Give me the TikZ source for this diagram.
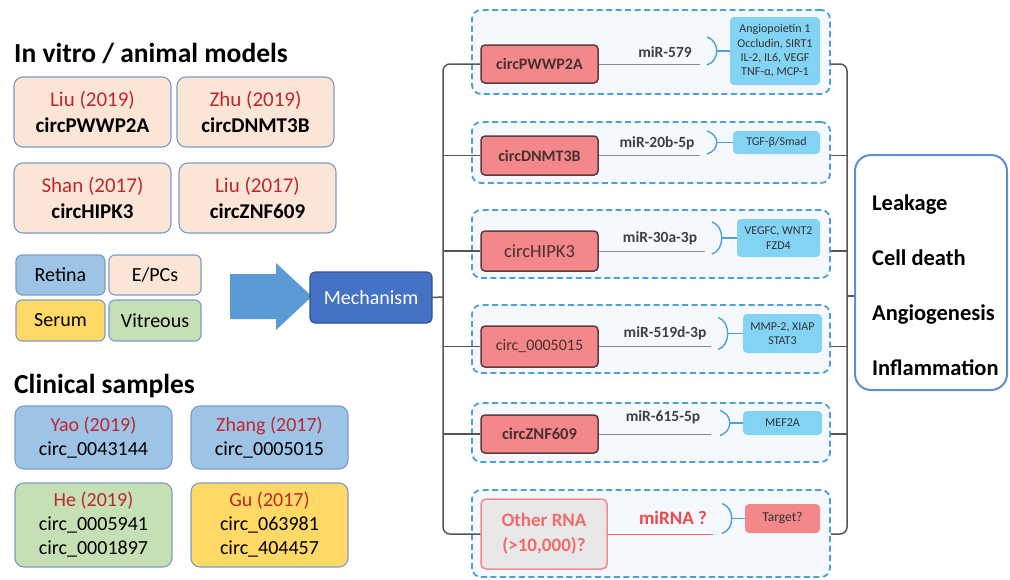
\documentclass[tikz,border=0pt]{standalone}
\usepackage{fontspec}
\setmainfont{Carlito}
\usetikzlibrary{calc}
\definecolor{peach}{HTML}{FBE5D6}
\definecolor{bordc}{HTML}{7A9CC6}
\definecolor{redtxt}{HTML}{C0272D}
\definecolor{lblue}{HTML}{9DC3E6}
\definecolor{lgreen}{HTML}{C5E0B4}
\definecolor{gold}{HTML}{FFD966}
\definecolor{mechfill}{HTML}{4472C4}
\definecolor{mechbord}{HTML}{2F528F}
\definecolor{arrowblue}{HTML}{5B9BD5}
\definecolor{circred}{HTML}{F4878A}
\definecolor{circbord}{HTML}{5A3C3C}
\definecolor{tgtblue}{HTML}{83D3F5}
\definecolor{dashblue}{HTML}{4CA0D6}
\definecolor{dashfill}{HTML}{F5F9FD}
\definecolor{trunkc}{HTML}{555555}
\definecolor{mirc}{HTML}{8A8A8A}
\definecolor{mirtxt}{HTML}{404040}
\definecolor{outbord}{HTML}{5B8FCF}
\definecolor{otherred}{HTML}{F26B6B}
\definecolor{mirnared}{HTML}{EE4848}
\definecolor{othergray}{HTML}{E8E8E8}
\newcommand{\mybrk}[4]{%
  \draw[brk] (#1,#2-#3) .. controls (#1+13,#2-#3+4) and (#1+13,#2+#3-4) .. (#1,#2+#3);
  \coordinate (#4) at (#1+10,#2);}
\begin{document}
\begin{tikzpicture}[x=1pt,y=-1pt,
  lbox/.style={draw=bordc, line width=1.1pt, rounded corners=9pt, inner sep=0pt, align=center},
  bigtxt/.style={font=\fontsize{21}{26}\selectfont},
  smtxt/.style={font=\fontsize{20}{24}\selectfont},
  title/.style={anchor=base west, inner sep=0pt, font=\bfseries\fontsize{27.5}{30}\selectfont},
  dbox/.style={draw=dashblue, fill=dashfill, line width=1.8pt, dash pattern=on 6pt off 3.5pt, rounded corners=9pt, minimum width=358pt, inner sep=0pt},
  cbox/.style={draw=circbord, fill=circred, line width=1.5pt, rounded corners=4pt, minimum width=117pt, inner sep=0pt, text=circbord!80!black},
  tbox/.style={fill=tgtblue, rounded corners=4pt, inner sep=0pt, align=center, text=black!80, font=\fontsize{12}{14.3}\selectfont},
  trunk/.style={draw=trunkc, line width=1.5pt},
  mirline/.style={draw=mirc, line width=1pt},
  mirlab/.style={text=mirtxt, font=\bfseries\fontsize{15.5}{18}\selectfont, inner sep=0pt},
  brk/.style={draw=dashblue, line width=1.4pt},
  outlab/.style={anchor=base west, inner sep=0pt, font=\bfseries\fontsize{22.5}{26}\selectfont},
]
\useasboundingbox[fill=white] (0,0) rectangle (1010,579);

% ---------- left column ----------
\node[title] (ttl1) at (14,62) {In vitro / animal models};
\node[lbox, bigtxt, fill=peach, minimum width=157pt, minimum height=70pt] (liu19) at (92.5,112) {{\color{redtxt}Liu (2019)}\\\textbf{circPWWP2A}};
\node[lbox, bigtxt, fill=peach, minimum width=157pt, minimum height=70pt] (zhu19) at (255.5,112) {{\color{redtxt}Zhu (2019)}\\\textbf{circDNMT3B}};
\node[lbox, bigtxt, fill=peach, minimum width=157pt, minimum height=70pt] (shan17) at (92.5,198) {{\color{redtxt}Shan (2017)}\\\textbf{circHIPK3}};
\node[lbox, bigtxt, fill=peach, minimum width=157pt, minimum height=70pt] (liu17) at (257.5,198) {{\color{redtxt}Liu (2017)}\\\textbf{circZNF609}};

\node[lbox, smtxt, fill=lblue, rounded corners=6pt, minimum width=89pt, minimum height=40pt] (retina) at (60.5,275) {Retina};
\node[lbox, smtxt, fill=peach, rounded corners=6pt, minimum width=92pt, minimum height=40pt] (epcs) at (155,275) {E/PCs};
\node[lbox, smtxt, fill=gold, rounded corners=6pt, minimum width=89pt, minimum height=41pt] (serum) at (60.5,320.5) {Serum};
\node[lbox, smtxt, fill=lgreen, rounded corners=6pt, minimum width=92pt, minimum height=41pt] (vitreous) at (155,320.5) {Vitreous};

\fill[arrowblue] (230,274) -- (276,274) -- (276,263) -- (312,296.5) -- (276,330) -- (276,319) -- (230,319) -- cycle;
\node[draw=mechbord, fill=mechfill, line width=1.2pt, rounded corners=5pt, minimum width=122pt, minimum height=51pt, inner sep=0pt, text=white, font=\fontsize{20}{24}\selectfont] (mech) at (371,297.5) {Mechanism};

\node[title] (ttl2) at (14,393) {Clinical samples};
\node[lbox, smtxt, fill=lblue, minimum width=157pt, minimum height=63pt] (yao) at (93.5,437.5) {{\color{redtxt}Yao (2019)}\\circ\_0043144};
\node[lbox, smtxt, fill=lblue, minimum width=157pt, minimum height=63pt] (zhang) at (269.5,437.5) {{\color{redtxt}Zhang (2017)}\\circ\_0005015};
\node[lbox, smtxt, fill=lgreen, minimum width=157pt, minimum height=84pt] (he) at (93.5,525) {{\color{redtxt}He (2019)}\\circ\_0005941\\circ\_0001897};
\node[lbox, smtxt, fill=gold, minimum width=157pt, minimum height=84pt] (gu) at (269.5,525) {{\color{redtxt}Gu (2017)}\\circ\_063981\\circ\_404457};

% ---------- middle ----------
\node[dbox, minimum height=84pt] (d1) at (651,52) {};
\node[dbox, minimum height=61pt] (d2) at (651,152.5) {};
\node[dbox, minimum height=68pt] (d3) at (651,244) {};
\node[dbox, minimum height=68pt] (d4) at (651,339) {};
\node[dbox, minimum height=59pt] (d5) at (651,432.5) {};
\node[dbox, minimum height=87pt] (d6) at (651,533.5) {};

\node[cbox, minimum height=38pt, font=\bfseries\fontsize{16}{19}\selectfont] (c1) at (539.5,64) {circPWWP2A};
\node[cbox, minimum height=39pt, font=\bfseries\fontsize{16}{19}\selectfont] (c2) at (539.5,155.5) {circDNMT3B};
\node[cbox, minimum height=40pt, font=\fontsize{18.5}{21}\selectfont] (c3) at (539.5,251) {circHIPK3};
\node[cbox, minimum height=41pt, font=\fontsize{16}{19}\selectfont] (c4) at (539.5,346.5) {circ\_0005015};
\node[cbox, minimum height=38pt, font=\bfseries\fontsize{16.5}{19}\selectfont] (c5) at (539.5,434) {circZNF609};
\node[draw=otherred!80, fill=othergray, line width=1.5pt, rounded corners=5pt, minimum width=126pt, minimum height=70pt, inner sep=0pt, align=center, text=otherred, font=\bfseries\fontsize{19}{25}\selectfont] (c6) at (544,534) {Other RNA\\(>10,000)?};

\node[tbox, minimum width=90pt, minimum height=68pt] (t1) at (775,51) {Angiopoietin 1\\Occludin, SIRT1\\IL-2, IL6, VEGF\\TNF-α, MCP-1};
\node[tbox, minimum width=87pt, minimum height=23pt] (t2) at (776.5,142.5) {TGF-β/Smad};
\node[tbox, minimum width=83pt, minimum height=38pt] (t3) at (778.5,238) {VEGFC, WNT2\\FZD4};
\node[tbox, minimum width=79pt, minimum height=39pt] (t4) at (782.5,333.5) {MMP-2, XIAP\\STAT3};
\node[tbox, minimum width=79pt, minimum height=24pt] (t5) at (782.5,423) {MEF2A};
\node[fill=circred, rounded corners=4pt, inner sep=0pt, minimum width=75pt, minimum height=29pt, text=black!80, font=\fontsize{13.5}{16}\selectfont] (t6) at (782.5,518.5) {Target?};

% miR lines
\coordinate (e1) at (700,64);
\coordinate (e2) at (700,155.5);
\coordinate (e3) at (705,251);
\coordinate (e4) at (711,346.5);
\coordinate (e5) at (711,434);
\coordinate (e6) at (713,534);
\draw[mirline] (c1.east) -- (e1);
\draw[mirline] (c2.east) -- (e2);
\draw[mirline] (c3.east) -- (e3);
\draw[mirline] (c4.east) -- (e4);
\draw[mirline] (c5.east) -- (e5);
\draw[draw=otherred, line width=1pt] (c6.east |- e6) -- (e6);

\node[mirlab] (m1) at (665,52) {miR-579};
\node[mirlab] (m2) at (657,143) {miR-20b-5p};
\node[mirlab] (m3) at (660,238) {miR-30a-3p};
\node[mirlab] (m4) at (665,333) {miR-519d-3p};
\node[mirlab] (m5) at (663,417) {miR-615-5p};
\node[mirlab, text=mirnared, font=\bfseries\fontsize{19}{22}\selectfont] (m6) at (673,518) {miRNA ?};

% brackets
\mybrk{707}{51}{14}{bk1}
\mybrk{707}{142.5}{11.5}{bk2}
\mybrk{712}{238}{16}{bk3}
\mybrk{718}{333.5}{16}{bk4}
\mybrk{720}{423}{12.5}{bk5}
\mybrk{722}{518.5}{15}{bk6}
\draw[brk] (bk1) -- (t1.west);
\draw[brk] (bk2) -- (t2.west);
\draw[brk] (bk3) -- (t3.west);
\draw[brk] (bk4) -- (t4.west);
\draw[brk] (bk5) -- (t5.west);
\draw[brk] (bk6) -- (t6.west);

% trunks
\coordinate (lt) at (443,297);
\coordinate (rt) at (847,296);
\draw[trunk, rounded corners=7pt] (c1.west) -| (lt) |- (c6.west);
\draw[trunk] (lt |- c2.west) -- (c2.west);
\draw[trunk] (lt |- c3.west) -- (c3.west);
\draw[trunk] (lt |- c4.west) -- (c4.west);
\draw[trunk] (lt |- c5.west) -- (c5.west);
\draw[trunk] (mech.east) -- (lt);

% ---------- right ----------
\node[draw=outbord, fill=white, line width=2pt, rounded corners=16pt, minimum width=152pt, minimum height=235pt, inner sep=0pt] (out) at (931,272.5) {};
\draw[trunk, rounded corners=7pt] (d1.east |- c1.east) -| (rt) |- (d6.east |- c6.east);
\draw[trunk] (d2.east |- c2.east) -- (rt |- c2.east);
\draw[trunk] (d3.east |- c3.east) -- (rt |- c3.east);
\draw[trunk] (d4.east |- c4.east) -- (rt |- c4.east);
\draw[trunk] (d5.east |- c5.east) -- (rt |- c5.east);
\draw[trunk] (rt) -- (rt -| out.west);

\node[outlab] (o1) at (872,210) {Leakage};
\node[outlab] (o2) at (872,265) {Cell death};
\node[outlab] (o3) at (872,320) {Angiogenesis};
\node[outlab] (o4) at (872,375) {Inflammation};
\end{tikzpicture}
\end{document}
